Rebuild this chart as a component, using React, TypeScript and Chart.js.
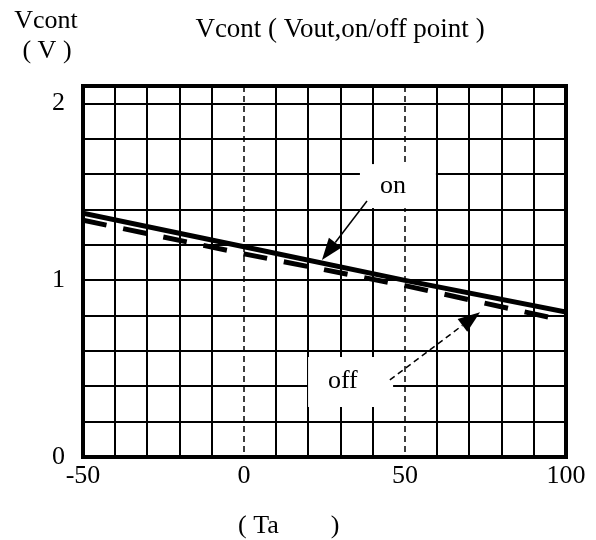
import React, { useEffect, useRef } from "react";
import { Chart, registerables } from "chart.js";

Chart.register(...registerables);

// ---- data ----
const ON_TEMPS = [-50, 0, 50, 100];
const ON_VALUES = [1.38, 1.19, 1.0, 0.82];
const OFF_TEMPS = [-50, 0, 50, 100];
const OFF_VALUES = [1.34, 1.15, 0.97, 0.77];

const X_GRID = [-50, -40, -30, -20, -10, 0, 10, 20, 30, 40, 50, 60, 70, 80, 90, 100];
const X_LABELS = [-50, 0, 50, 100];
const X_DASHED = [0, 50];
const Y_GRID = [0, 0.2, 0.4, 0.6, 0.8, 1.0, 1.2, 1.4, 1.6, 1.8, 2.0];
const Y_LABELS = [0, 1, 2];

const TITLE = "Vcont ( Vout,on/off point )";
const Y_TITLE_1 = "Vcont";
const Y_TITLE_2 = "( V )";
const X_TITLE = "( Ta        )";

// annotation label data positions [x, y]
const ON_LABEL = { text: "on", box: [36, 1.658, 59.6, 1.409], at: [46.3, 1.534], arrowFrom: [38.2, 1.449], arrowTo: [24.2, 1.115] };
const OFF_LABEL = { text: "off", box: [19.9, 0.566, 46.3, 0.283], at: [30.7, 0.43], arrowFrom: [45.3, 0.436], arrowTo: [73.3, 0.82] };

const FONT = "'Liberation Serif', 'Times New Roman', serif";
const FS = 26;

const near = (a: number, b: number) => Math.abs(a - b) < 1e-6;

function drawArrow(ctx: CanvasRenderingContext2D, x1: number, y1: number, x2: number, y2: number, dashed: boolean) {
  const ang = Math.atan2(y2 - y1, x2 - x1);
  const headLen = 22;
  const headW = 8;
  const bx = x2 - headLen * Math.cos(ang);
  const by = y2 - headLen * Math.sin(ang);
  ctx.save();
  ctx.strokeStyle = "#000";
  ctx.fillStyle = "#000";
  ctx.lineWidth = 1.5;
  ctx.setLineDash(dashed ? [6, 4] : []);
  ctx.beginPath();
  ctx.moveTo(x1, y1);
  ctx.lineTo(bx, by);
  ctx.stroke();
  ctx.setLineDash([]);
  ctx.beginPath();
  ctx.moveTo(x2, y2);
  ctx.lineTo(bx + headW * Math.sin(ang), by - headW * Math.cos(ang));
  ctx.lineTo(bx - headW * Math.sin(ang), by + headW * Math.cos(ang));
  ctx.closePath();
  ctx.fill();
  ctx.restore();
}

const decorPlugin = {
  id: "decor",
  beforeDatasetsDraw(chart: any) {
    const { ctx, chartArea, scales } = chart;
    const xs = scales.x;
    const ys = scales.y;
    ctx.save();
    ctx.strokeStyle = "#000";
    ctx.lineWidth = 1.5;
    ctx.setLineDash([6, 4]);
    X_DASHED.forEach((v) => {
      const px = xs.getPixelForValue(v);
      ctx.beginPath();
      ctx.moveTo(px, chartArea.top);
      ctx.lineTo(px, chartArea.bottom);
      ctx.stroke();
    });
    ctx.setLineDash([]);
    ctx.fillStyle = "#fff";
    [ON_LABEL, OFF_LABEL].forEach((l) => {
      const x1 = xs.getPixelForValue(l.box[0]);
      const y1 = ys.getPixelForValue(l.box[1]);
      const x2 = xs.getPixelForValue(l.box[2]);
      const y2 = ys.getPixelForValue(l.box[3]);
      ctx.fillRect(x1, y1, x2 - x1, y2 - y1);
    });
    ctx.restore();
  },
  afterDatasetsDraw(chart: any) {
    const { ctx, chartArea, scales } = chart;
    const xs = scales.x;
    const ys = scales.y;
    ctx.save();
    ctx.fillStyle = "#000";
    ctx.font = `${FS}px ${FONT}`;
    ctx.textAlign = "center";
    ctx.textBaseline = "middle";
    [ON_LABEL, OFF_LABEL].forEach((l, i) => {
      ctx.fillText(l.text, xs.getPixelForValue(l.at[0]), ys.getPixelForValue(l.at[1]));
      drawArrow(
        ctx,
        xs.getPixelForValue(l.arrowFrom[0]),
        ys.getPixelForValue(l.arrowFrom[1]),
        xs.getPixelForValue(l.arrowTo[0]),
        ys.getPixelForValue(l.arrowTo[1]),
        i === 1
      );
    });
    ctx.strokeStyle = "#000";
    ctx.lineWidth = 4;
    ctx.strokeRect(chartArea.left, chartArea.top, chartArea.right - chartArea.left, chartArea.bottom - chartArea.top);
    ctx.textBaseline = "alphabetic";
    ctx.font = `27px ${FONT}`;
    ctx.fillText(TITLE, 340, 37);
    ctx.font = `${FS}px ${FONT}`;
    ctx.fillText(Y_TITLE_1, 46, 28);
    ctx.fillText(Y_TITLE_2, 47, 58);
    ctx.textAlign = "left";
    ctx.fillText(X_TITLE, 238, 533);
    ctx.restore();
  },
};

export default function App() {
  const ref = useRef<HTMLCanvasElement>(null);
  useEffect(() => {
    document.body.style.margin = "0";
    const canvas = ref.current!;
    const chart = new Chart(canvas, {
      type: "line",
      data: {
        datasets: [
          {
            label: "on",
            data: ON_TEMPS.map((t, i) => ({ x: t, y: ON_VALUES[i] })),
            borderColor: "#000",
            borderWidth: 5,
            pointRadius: 0,
            fill: false,
            tension: 0,
            order: 0,
          },
          {
            label: "off",
            data: OFF_TEMPS.map((t, i) => ({ x: t, y: OFF_VALUES[i] })),
            borderColor: "#000",
            borderWidth: 5,
            borderDash: [24, 17],
            borderCapStyle: "butt",
            pointRadius: 0,
            fill: false,
            tension: 0,
            order: 1,
          },
        ],
      },
      options: {
        animation: false,
        responsive: false,
        maintainAspectRatio: false,
        layout: { padding: { top: 86, right: 30, left: 0, bottom: 0 } },
        plugins: { legend: { display: false }, title: { display: false }, tooltip: { enabled: false } },
        scales: {
          x: {
            type: "linear",
            min: -50,
            max: 100,
            afterBuildTicks: (s: any) => {
              s.ticks = X_GRID.map((v) => ({ value: v }));
            },
            afterFit: (s: any) => {
              s.height = 83;
            },
            ticks: {
              autoSkip: false,
              maxRotation: 0,
              color: "#000",
              padding: 4,
              font: { family: FONT, size: FS },
              callback: (v: any) => (X_LABELS.some((l) => near(l, Number(v))) ? String(v) : ""),
            },
            grid: {
              drawTicks: false,
              lineWidth: 2,
              color: (c: any) => (c.tick && X_DASHED.some((d) => near(d, c.tick.value)) ? "rgba(0,0,0,0)" : "#000"),
            },
            border: { display: false },
          },
          y: {
            type: "linear",
            min: 0,
            max: 2.1,
            afterBuildTicks: (s: any) => {
              s.ticks = Y_GRID.map((v) => ({ value: v }));
            },
            afterFit: (s: any) => {
              s.width = 83;
            },
            ticks: {
              autoSkip: false,
              color: "#000",
              padding: 18,
              font: { family: FONT, size: FS },
              callback: (v: any) => (Y_LABELS.some((l) => near(l, Number(v))) ? String(Math.round(Number(v))) : ""),
            },
            grid: { drawTicks: false, lineWidth: 2, color: "#000" },
            border: { display: false },
          },
        },
      },
      plugins: [decorPlugin],
    });
    return () => chart.destroy();
  }, []);
  return <canvas ref={ref} width={596} height={540} style={{ display: "block" }} />;
}
